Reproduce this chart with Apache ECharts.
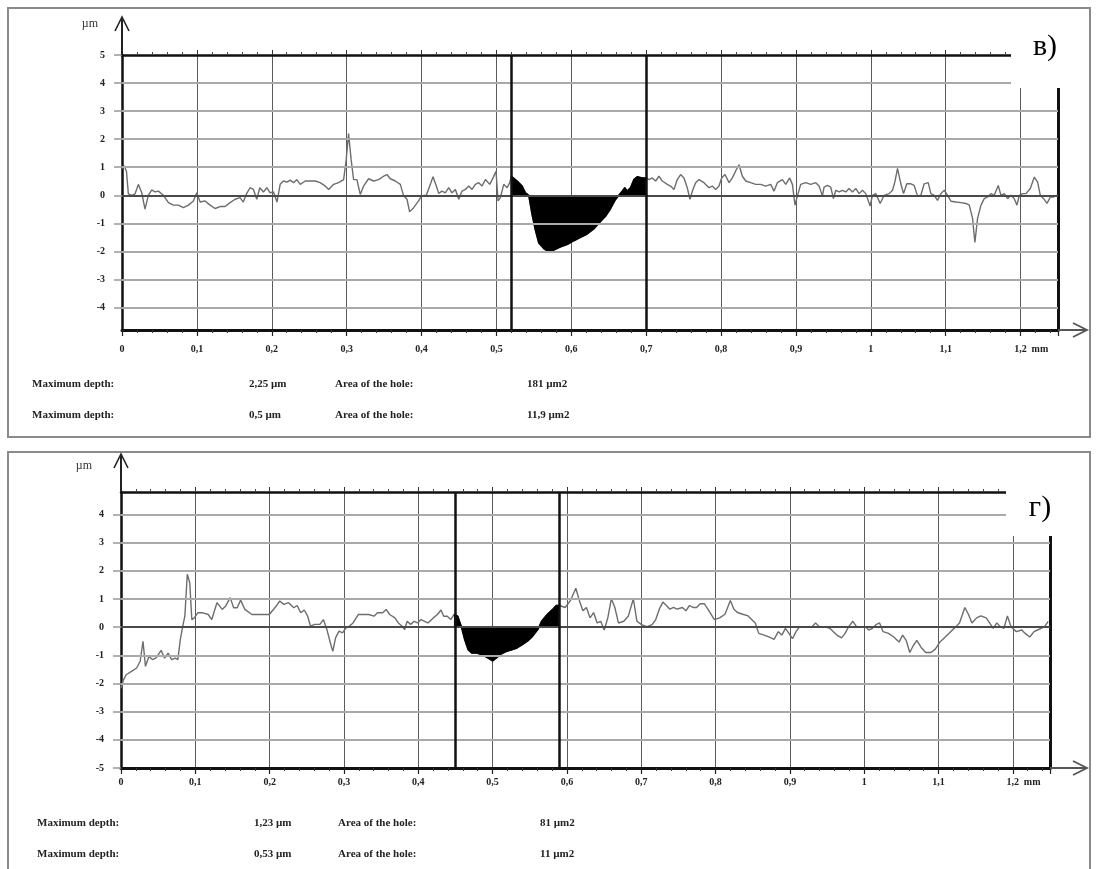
<!DOCTYPE html>
<html><head><meta charset="utf-8">
<script src="https://cdn.jsdelivr.net/npm/echarts@6/dist/echarts.min.js"></script>
<style>html,body{margin:0;padding:0;background:#fff}#c{width:1099px;height:869px}</style>
</head><body><div id="c"></div>
<script>
// ---------- DATA ----------
const X_MIN = 0, X_MAX = 1.25;
const X_TICKS = [0, 0.1, 0.2, 0.3, 0.4, 0.5, 0.6, 0.7, 0.8, 0.9, 1, 1.1, 1.2];

// panel в)
const TOP_Y_MIN = -4.8, TOP_Y_MAX = 5;
const TOP_Y_LABELS = [-4, -3, -2, -1, 0, 1, 2, 3, 4, 5];
const TOP_GRIDLINES = [-4, -3, -2, -1, 1, 2, 3, 4];
const TOP_CURSORS = [0.52, 0.70];
const TOP_X = [0,0.003,0.006,0.0085,0.013,0.0174,0.0218,0.0263,0.0307,0.0352,0.0397,0.0441,0.0486,0.0553,0.062,0.0686,0.0753,0.082,0.0887,0.0954,0.0998,0.1043,0.111,0.1176,0.1243,0.131,0.1377,0.1443,0.151,0.1577,0.162,0.1666,0.171,0.1755,0.18,0.184,0.1889,0.1934,0.1978,0.2023,0.207,0.2112,0.2157,0.2202,0.2246,0.2291,0.2335,0.238,0.2447,0.2514,0.258,0.2647,0.2714,0.276,0.2826,0.2893,0.296,0.2994,0.3026,0.306,0.3093,0.3137,0.3182,0.3226,0.3293,0.336,0.3427,0.3494,0.3538,0.3583,0.365,0.3717,0.3761,0.3806,0.3841,0.3895,0.3961,0.4,0.4064,0.4118,0.4153,0.4198,0.4229,0.4273,0.4318,0.4363,0.4407,0.4452,0.4497,0.4541,0.4586,0.463,0.4675,0.4719,0.4764,0.4808,0.4853,0.4911,0.4955,0.4995,0.5022,0.5053,0.5098,0.5143,0.5178,
0.52,0.5276,0.5343,0.5388,0.5432,0.5477,0.5521,0.5566,0.5633,0.57,0.5766,0.585,0.595,0.6034,0.6123,0.6212,0.63,0.6368,0.6457,0.6524,0.6591,0.6635,0.668,0.6715,0.6747,0.6791,0.6836,0.6881,0.6947,0.70,
0.7037,0.7081,0.7126,0.7171,0.7215,0.7282,0.7326,0.7371,0.7416,0.746,0.7505,0.7549,0.7585,0.7625,0.7661,0.7705,0.7772,0.7839,0.7884,0.7928,0.7973,0.8008,0.8053,0.8107,0.8151,0.8205,0.824,0.8285,0.833,0.8396,0.8463,0.853,0.8596,0.8663,0.8708,0.8752,0.8819,0.8864,0.8917,0.8953,0.8988,0.902,0.9064,0.9131,0.9198,0.9265,0.9309,0.9354,0.9376,0.9421,0.9465,0.9501,0.9532,0.9577,0.9621,0.9666,0.971,0.9755,0.98,0.9844,0.9889,0.9933,0.9991,1.0022,1.0067,1.0125,1.0178,1.0245,1.029,1.0321,1.0357,1.0401,1.0437,1.0481,1.0535,1.0579,1.0624,1.0668,1.0713,1.0767,1.0802,1.0847,1.0891,1.0936,1.0981,1.1025,1.107,1.1136,1.1203,1.127,1.1315,1.1359,1.139,1.1426,1.1471,1.1515,1.156,1.1604,1.1649,1.1702,1.1738,1.1783,1.1827,1.1872,1.1916,1.1952,1.1983,1.2028,1.2072,1.213,1.2184,1.2228,1.2264,1.2308,1.2353,1.2398,1.2442,1.2496];
const TOP_Y = [0.95,1.05,0.85,0.05,0,0.05,0.39,0.1,-0.49,0,0.19,0.12,0.15,0,-0.26,-0.35,-0.35,-0.44,-0.35,-0.2,0.09,-0.24,-0.2,-0.35,-0.47,-0.4,-0.4,-0.26,-0.14,-0.08,-0.24,0.07,0.27,0.21,-0.14,0.27,0.12,0.27,0.09,0.12,-0.24,0.39,0.51,0.47,0.54,0.45,0.56,0.39,0.51,0.51,0.51,0.45,0.33,0.21,0.39,0.45,0.56,1.27,2.2,1.27,0.56,0.56,0.03,0.33,0.59,0.51,0.56,0.68,0.74,0.59,0.51,0.39,-0.02,-0.14,-0.59,-0.44,-0.2,-0.02,0,0.39,0.66,0.33,0.07,0.15,0.09,0.27,0.09,0.21,-0.14,0.15,0.21,0.33,0.21,0.39,0.45,0.33,0.56,0.39,0.62,0.86,-0.2,-0.08,0.39,0.27,0.45,
0.68,0.51,0.33,0.09,0,-0.7,-1.25,-1.7,-1.9,-2.02,-1.95,-1.85,-1.75,-1.62,-1.5,-1.38,-1.2,-1.0,-0.75,-0.48,-0.15,0,0.15,0.27,0.15,0.27,0.56,0.66,0.62,0.62,
0.56,0.62,0.51,0.68,0.51,0.39,0.33,0.21,0.56,0.74,0.62,0.27,-0.14,0.21,0.45,0.56,0.45,0.27,0.33,0.21,0.33,0.62,0.74,0.45,0.62,0.92,1.09,0.68,0.51,0.45,0.39,0.39,0.33,0.39,0.15,0.45,0.56,0.39,0.62,0.39,-0.35,-0.02,0.39,0.45,0.39,0.45,0.33,-0.02,0.29,0.35,0.29,-0.12,0.18,0.12,0.18,0.12,0.24,0.12,0.24,0.06,0.18,0.06,-0.38,0,0.06,-0.29,0,0.06,0.18,0.47,0.96,0.41,0.06,0.41,0.41,0.35,-0.02,0,0.41,0.45,0.06,0,-0.18,0.06,0.18,0,-0.21,-0.24,-0.26,-0.29,-0.35,-0.82,-1.68,-0.82,-0.35,-0.12,-0.06,0.06,0,0.35,0,0.06,-0.12,0,-0.12,-0.35,0,0.06,0.06,0.24,0.65,0.47,0,-0.12,-0.29,-0.06,-0.06,0.02];

// panel г)
const BOT_Y_MIN = -5, BOT_Y_MAX = 4.8;
const BOT_Y_LABELS = [-5, -4, -3, -2, -1, 0, 1, 2, 3, 4];
const BOT_GRIDLINES = [-4, -3, -2, -1, 1, 2, 3, 4];
const BOT_CURSORS = [0.448, 0.59];
const BOT_X = [0,0.0033,0.007,0.0141,0.0211,0.0258,0.0296,0.0329,0.0376,0.0423,0.0469,0.054,0.0587,0.0634,0.0681,0.0728,0.0765,0.0798,0.0831,0.0859,0.0892,0.0925,0.0953,0.0986,0.1033,0.1103,0.1174,0.1221,0.1291,0.1362,0.1408,0.1469,0.1516,0.1563,0.161,0.1667,0.1761,0.1878,0.1995,0.2089,0.2136,0.2192,0.2254,0.2324,0.2371,0.2418,0.2465,0.2512,0.2549,0.2606,0.2676,0.2723,0.277,0.2817,0.285,0.2887,0.2934,0.2981,0.3028,0.3075,0.3122,0.3192,0.3263,0.3333,0.3404,0.3451,0.3521,0.3568,0.3615,0.3685,0.3732,0.3779,0.3817,0.385,0.3897,0.3944,0.3991,0.4038,0.4085,0.4131,0.4202,0.4258,0.4305,0.4343,0.439,0.4437,
0.448,0.4531,0.4577,0.4624,0.4671,0.4718,0.4789,0.4859,0.493,0.5,0.5047,0.5117,0.5188,0.5258,0.5329,0.5399,0.5469,0.554,0.561,0.5657,0.5737,0.5809,0.5857,0.59,
0.5976,0.6048,0.612,0.6167,0.6215,0.6263,0.6311,0.6359,0.6407,0.6454,0.6502,0.655,0.6598,0.6645,0.6693,0.6765,0.6827,0.6894,0.6942,0.7004,0.7076,0.7147,0.7195,0.7243,0.7291,0.7338,0.7386,0.7434,0.7482,0.7554,0.7601,0.7649,0.7697,0.7745,0.7793,0.785,0.7912,0.7984,0.8055,0.8127,0.8199,0.8247,0.8295,0.8366,0.8438,0.8486,0.8534,0.8581,0.8653,0.8725,0.8787,0.8844,0.8892,0.894,0.8988,0.9035,0.9083,0.9131,0.9298,0.9346,0.9394,0.9465,0.9537,0.9585,0.9633,0.9695,0.9743,0.9791,0.9848,0.9896,0.9968,1.0015,1.0063,1.0111,1.0159,1.0207,1.0254,1.0326,1.0398,1.0469,1.0517,1.0565,1.0613,1.0661,1.0708,1.0766,1.0828,1.09,1.0957,1.1019,1.1091,1.1163,1.1234,1.1282,1.1354,1.1402,1.145,1.1512,1.1569,1.1641,1.1688,1.1736,1.1784,1.1832,1.188,1.1927,1.1975,1.2047,1.2119,1.2166,1.2228,1.2285,1.2333,1.2381,1.2428,1.2476];
const BOT_Y = [-2.17,-1.87,-1.69,-1.57,-1.45,-1.21,-0.5,-1.39,-1.04,-1.15,-1.1,-0.82,-1.1,-0.92,-1.15,-1.1,-1.15,-0.44,0.04,0.39,1.88,1.58,0.27,0.33,0.51,0.51,0.45,0.27,0.87,0.63,0.75,1.05,0.69,0.69,0.96,0.63,0.45,0.45,0.45,0.75,0.93,0.81,0.87,0.69,0.77,0.51,0.61,0.39,0.04,0.1,0.1,0.27,-0.08,-0.56,-0.86,-0.38,-0.14,-0.2,-0.02,0.04,0.15,0.45,0.45,0.45,0.39,0.51,0.51,0.63,0.45,0.33,0.15,0.04,-0.08,0.21,0.1,0.21,0.15,0.27,0.21,0.15,0.33,0.45,0.61,0.39,0.39,0.27,
0.45,0.39,0.04,-0.44,-0.8,-0.92,-0.92,-0.98,-1.08,-1.2,-1.1,-0.95,-0.86,-0.8,-0.74,-0.62,-0.5,-0.32,-0.08,0.2,0.46,0.64,0.77,0.77,
0.7,0.95,1.38,0.95,0.58,0.7,0.33,0.52,0.15,0.21,-0.1,0.33,1.01,0.7,0.15,0.21,0.4,1.01,0.21,0.09,0.02,0.09,0.27,0.64,0.89,0.77,0.64,0.7,0.64,0.7,0.58,0.77,0.7,0.7,0.83,0.83,0.58,0.27,0.33,0.46,0.95,0.64,0.52,0.46,0.4,0.27,0.15,-0.22,-0.28,-0.35,-0.43,-0.16,-0.28,-0.04,-0.22,-0.41,-0.16,0.02,0.02,0.15,0.02,0.02,-0.04,-0.16,-0.28,-0.38,-0.22,0.02,0.21,0.02,0.02,0.02,-0.1,-0.04,0.09,0.15,-0.16,-0.22,-0.35,-0.53,-0.28,-0.47,-0.9,-0.65,-0.47,-0.72,-0.9,-0.9,-0.78,-0.53,-0.35,-0.16,0.02,0.15,0.7,0.46,0.15,0.33,0.4,0.33,0.15,-0.04,0.15,0.02,-0.04,0.4,0.02,-0.16,-0.1,-0.22,-0.35,-0.16,-0.1,-0.04,0.02,0.21];

const TOP_TEXT = [["Maximum depth:", "2,25 µm", "Area of the hole:", "181 µm2"],
                  ["Maximum depth:", "0,5 µm", "Area of the hole:", "11,9 µm2"]];
const BOT_TEXT = [["Maximum depth:", "1,23 µm", "Area of the hole:", "81 µm2"],
                  ["Maximum depth:", "0,53 µm", "Area of the hole:", "11 µm2"]];
const PANEL_LABELS = ["в)", "г)"];

// ---------- LAYOUT ----------
const G = [
  {left: 122, top: 55, width: 936, height: 275, labMargin: 14, textRows: [384, 415], textX: [32, 249, 335, 527], box: [1011, 12, 77, 76], boxText: [1045, 47], yLab: 17, unit: [98, 24]},
  {left: 121, top: 492, width: 929, height: 276, labMargin: 9, textRows: [823, 854], textX: [37, 254, 338, 540], box: [1006, 456, 82, 80], boxText: [1040, 508], yLab: 17, unit: [92, 466]}
];
const SERIF = '"Liberation Serif", "DejaVu Serif", serif';

const zip = (xs, ys) => xs.map((x, i) => [x, ys[i]]);
const within = (pts, c) => pts.filter(p => p[0] >= c[0] - 1e-9 && p[0] <= c[1] + 1e-9);
const fmtX = v => { const r = Math.round(v * 10) / 10; if (r > 1.21) return ''; return String(r).replace('.', ','); };

function xAxes(gi) {
  const g = G[gi];
  return [
    { gridIndex: gi, type: 'value', min: X_MIN, max: X_MAX, interval: 0.1, position: 'bottom',
      axisLine: { onZero: false, lineStyle: { color: '#111', width: 3 } },
      axisTick: { show: true, length: 6, lineStyle: { color: '#222', width: 1.2 } },
      minorTick: { show: true, splitNumber: 5, length: 3, lineStyle: { color: '#333', width: 1 } },
      splitLine: { show: true, lineStyle: { color: '#5a5a5a', width: 1 } },
      axisLabel: { margin: g.labMargin, formatter: fmtX, showMaxLabel: false, color: '#222', fontFamily: SERIF, fontWeight: 'bold', fontSize: 10 } },
    { gridIndex: gi, type: 'value', min: X_MIN, max: X_MAX, interval: 0.1, position: 'top',
      axisLine: { onZero: false, lineStyle: { color: '#111', width: 2.5 } },
      axisTick: { show: true, length: 5, lineStyle: { color: '#333', width: 1 } },
      minorTick: { show: true, splitNumber: 5, length: 3, lineStyle: { color: '#444', width: 1 } },
      splitLine: { show: false }, axisLabel: { show: false } }
  ];
}
function yAxes(gi, mn, mx, labels) {
  const g = G[gi];
  return [
    { gridIndex: gi, type: 'value', min: mn, max: mx, position: 'left',
      axisLine: { onZero: false, lineStyle: { color: '#111', width: 2.5 } },
      axisTick: { show: true, customValues: labels, length: 8, lineStyle: { color: '#999', width: 1.5 } },
      axisLabel: { customValues: labels, margin: g.yLab, color: '#222', fontFamily: SERIF, fontWeight: 'bold', fontSize: 10 },
      splitLine: { show: false } },
    { gridIndex: gi, type: 'value', min: mn, max: mx, position: 'right',
      axisLine: { show: true, onZero: false, lineStyle: { color: '#111', width: 3 } },
      axisTick: { show: false }, axisLabel: { show: false }, splitLine: { show: false } }
  ];
}
function seriesFor(gi, xs, ys, gridVals, cursors) {
  const pts = zip(xs, ys);
  const xi = gi * 2, yi = gi * 2;
  return [
    { type: 'line', xAxisIndex: xi, yAxisIndex: yi, data: pts, showSymbol: false, z: 2,
      lineStyle: { color: '#6d6d6d', width: 1.4 },
      markLine: { silent: true, symbol: ['none', 'none'], label: { show: false }, animation: false,
        data: gridVals.map(v => ({ yAxis: v, lineStyle: { color: '#a9a9a9', width: 1.8, type: 'solid' } }))
          .concat([{ yAxis: 0, lineStyle: { color: '#4a4a4a', width: 2, type: 'solid' } }]) } },
    { type: 'line', xAxisIndex: xi, yAxisIndex: yi, data: within(pts, cursors), showSymbol: false, z: 3,
      lineStyle: { color: '#000', width: 1.4 },
      areaStyle: { color: '#000', opacity: 1, origin: 0 },
      markLine: { silent: true, symbol: ['none', 'none'], label: { show: false }, animation: false,
        data: cursors.map(v => ({ xAxis: v, lineStyle: { color: '#111', width: 2.5, type: 'solid' } })) } }
  ];
}

function decorations() {
  const els = [];
  const bold = { fontFamily: SERIF, fontWeight: 'bold', fontSize: 11, fill: '#222' };
  els.push({ type: 'rect', shape: { x: 8, y: 8, width: 1082, height: 429 }, style: { fill: 'none', stroke: '#8a8a8a', lineWidth: 2 }, z: 100 });
  els.push({ type: 'rect', shape: { x: 8, y: 452, width: 1082, height: 430 }, style: { fill: 'none', stroke: '#8a8a8a', lineWidth: 2 }, z: 100 });
  [TOP_TEXT, BOT_TEXT].forEach((rows, gi) => {
    const g = G[gi];
    const right = g.left + g.width, bottom = g.top + g.height;
    els.push({ type: 'line', shape: { x1: g.left, y1: g.top, x2: g.left, y2: g.top - 36 }, style: { stroke: '#222', lineWidth: 2 }, z: 100 });
    els.push({ type: 'polyline', shape: { points: [[g.left - 7, g.top - 24], [g.left, g.top - 38], [g.left + 7, g.top - 24]] }, style: { stroke: '#222', lineWidth: 1.6, fill: 'none' }, z: 100 });
    els.push({ type: 'line', shape: { x1: right, y1: bottom, x2: 1086, y2: bottom }, style: { stroke: '#555', lineWidth: 2 }, z: 100 });
    els.push({ type: 'polyline', shape: { points: [[1073, bottom - 7], [1087, bottom], [1073, bottom + 7]] }, style: { stroke: '#555', lineWidth: 1.8, fill: 'none' }, z: 100 });
    els.push({ type: 'text', x: g.unit[0], y: g.unit[1], style: { text: 'µm', fontFamily: SERIF, fontSize: 12, fill: '#333', textAlign: 'right', textVerticalAlign: 'middle' }, z: 100 });
    const tick12 = g.left + 1.2 * g.width / (X_MAX - X_MIN);
    els.push({ type: 'text', x: tick12 + 11, y: bottom + g.labMargin + 5, style: { text: 'mm', fontFamily: SERIF, fontWeight: 'bold', fontSize: 10, fill: '#222', textAlign: 'left', textVerticalAlign: 'middle' }, z: 100 });
    els.push({ type: 'rect', shape: { x: g.box[0], y: g.box[1], width: g.box[2], height: g.box[3] }, style: { fill: '#fff' }, z: 101 });
    els.push({ type: 'text', x: g.boxText[0], y: g.boxText[1], style: { text: PANEL_LABELS[gi], fontFamily: SERIF, fontSize: 30, fill: '#000', textAlign: 'center', textVerticalAlign: 'middle' }, z: 102 });
    rows.forEach((row, ri) => {
      row.forEach((t, ci) => {
        els.push({ type: 'text', x: g.textX[ci], y: g.textRows[ri], style: Object.assign({ text: t, textAlign: 'left', textVerticalAlign: 'middle' }, bold), z: 100 });
      });
    });
  });
  return els;
}

const chart = echarts.init(document.getElementById('c'), null, { renderer: 'canvas' });
chart.setOption({
  animation: false,
  backgroundColor: '#fff',
  grid: G.map(g => ({ left: g.left, top: g.top, width: g.width, height: g.height, containLabel: false })),
  xAxis: xAxes(0).concat(xAxes(1)),
  yAxis: yAxes(0, TOP_Y_MIN, TOP_Y_MAX, TOP_Y_LABELS).concat(yAxes(1, BOT_Y_MIN, BOT_Y_MAX, BOT_Y_LABELS)),
  series: seriesFor(0, TOP_X, TOP_Y, TOP_GRIDLINES, TOP_CURSORS).concat(seriesFor(1, BOT_X, BOT_Y, BOT_GRIDLINES, BOT_CURSORS)),
  graphic: { elements: decorations() }
});
</script></body></html>
